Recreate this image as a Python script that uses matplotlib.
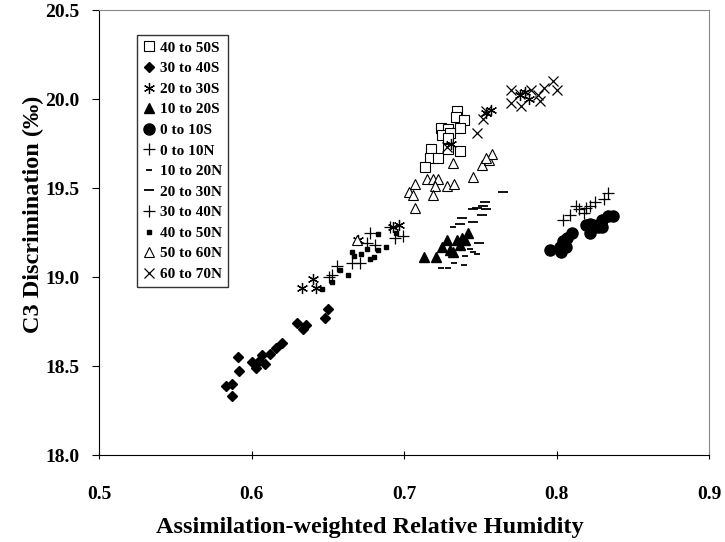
import numpy as np
import matplotlib
matplotlib.use("Agg")
import matplotlib.pyplot as plt

plt.rcParams['font.family'] = ['Liberation Serif', 'DejaVu Serif']
plt.rcParams['font.weight'] = 'bold'

# 40 to 50S (open squares)
s40_x = [0.735, 0.734, 0.739, 0.737, 0.724, 0.729, 0.725, 0.730, 0.729, 0.729, 0.737, 0.718, 0.717, 0.722, 0.714]
s40_y = [19.93, 19.90, 19.88, 19.84, 19.84, 19.83, 19.80, 19.81, 19.78, 19.72, 19.71, 19.72, 19.67, 19.67, 19.62]

# 30 to 40S (filled diamonds)
s30_x = [0.583, 0.587, 0.587, 0.591, 0.592, 0.600, 0.603, 0.605, 0.607, 0.609, 0.612, 0.616, 0.620, 0.630, 0.634, 0.636, 0.648, 0.650]
s30_y = [18.39, 18.40, 18.33, 18.55, 18.47, 18.52, 18.49, 18.53, 18.56, 18.51, 18.57, 18.60, 18.63, 18.74, 18.71, 18.73, 18.77, 18.82]

# 20 to 30S (asterisks)
s20_x = [0.633, 0.640, 0.642, 0.670, 0.693, 0.697, 0.731, 0.754, 0.757, 0.776, 0.779, 0.782]
s20_y = [18.94, 18.99, 18.94, 19.21, 19.28, 19.29, 19.75, 19.92, 19.94, 20.02, 20.04, 20.00]

# 10 to 20S (filled triangles)
s10_x = [0.713, 0.721, 0.725, 0.728, 0.730, 0.735, 0.737, 0.740, 0.742, 0.738, 0.732]
s10_y = [19.11, 19.11, 19.17, 19.21, 19.15, 19.21, 19.18, 19.21, 19.25, 19.22, 19.14]

# 0 to 10S (filled circles)
s0_x = [0.796, 0.802, 0.804, 0.807, 0.810, 0.806, 0.819, 0.822, 0.824, 0.827, 0.830, 0.830, 0.834, 0.837, 0.822, 0.803]
s0_y = [19.15, 19.17, 19.20, 19.22, 19.25, 19.17, 19.29, 19.25, 19.29, 19.28, 19.28, 19.32, 19.34, 19.34, 19.30, 19.14]

# 0 to 10N (plus)
n0_x = [0.804, 0.809, 0.813, 0.815, 0.819, 0.822, 0.825, 0.831, 0.834, 0.818]
n0_y = [19.32, 19.35, 19.40, 19.38, 19.39, 19.40, 19.42, 19.44, 19.47, 19.36]

# 10 to 20N (short dash)
n10_x = [0.724, 0.729, 0.733, 0.739, 0.740, 0.748, 0.743, 0.745, 0.732]
n10_y = [19.05, 19.05, 19.08, 19.07, 19.12, 19.13, 19.16, 19.14, 19.28]

# 20 to 30N (long dash)
n20_x = [0.737, 0.738, 0.745, 0.745, 0.748, 0.752, 0.753, 0.754, 0.751, 0.765, 0.749]
n20_y = [19.30, 19.33, 19.31, 19.38, 19.39, 19.40, 19.42, 19.38, 19.35, 19.48, 19.19]

# 30 to 40N (plus)
n30_x = [0.656, 0.666, 0.671, 0.678, 0.681, 0.676, 0.694, 0.699, 0.691, 0.653, 0.651]
n30_y = [19.06, 19.08, 19.08, 19.25, 19.18, 19.19, 19.22, 19.23, 19.28, 19.01, 19.00]

# 40 to 50N (small filled squares)
n40_x = [0.646, 0.658, 0.663, 0.666, 0.672, 0.676, 0.678, 0.680, 0.683, 0.688, 0.683, 0.695, 0.667, 0.653]
n40_y = [18.93, 19.04, 19.01, 19.14, 19.13, 19.16, 19.10, 19.11, 19.15, 19.17, 19.24, 19.25, 19.12, 18.97]

# 50 to 60N (open triangles)
n50_x = [0.732, 0.715, 0.719, 0.722, 0.707, 0.728, 0.733, 0.720, 0.703, 0.706, 0.719, 0.707, 0.745, 0.751, 0.756, 0.758, 0.754, 0.669]
n50_y = [19.64, 19.55, 19.55, 19.55, 19.52, 19.51, 19.52, 19.51, 19.48, 19.46, 19.46, 19.39, 19.56, 19.63, 19.66, 19.69, 19.67, 19.21]

# 60 to 70N (x)
n60_x = [0.770, 0.776, 0.770, 0.777, 0.754, 0.752, 0.748, 0.728, 0.783, 0.788, 0.792, 0.789, 0.798, 0.800]
n60_y = [20.05, 20.03, 19.98, 19.96, 19.93, 19.89, 19.81, 19.73, 20.05, 20.02, 20.06, 19.99, 20.10, 20.05]

fig = plt.figure(figsize=(7.25, 5.42), dpi=100)
ax = fig.add_axes([0.1366, 0.1605, 0.8414, 0.821])

k = 'black'
ax.plot(s40_x, s40_y, 's', ms=7, mfc='white', mec=k, mew=0.8, label='40 to 50S')
ax.plot(s30_x, s30_y, 'D', ms=5.5, color=k, label='30 to 40S')
ax.plot(s20_x, s20_y, ls='none', marker=(6, 2, 0), ms=8, color=k, mew=0.9, label='20 to 30S')
ax.plot(s10_x, s10_y, '^', ms=7.5, color=k, label='10 to 20S')
ax.plot(s0_x, s0_y, 'o', ms=8, color=k, label='0 to 10S')
ax.plot(n0_x, n0_y, '+', ms=8, color=k, mew=0.9, label='0 to 10N')
ax.plot(n10_x, n10_y, '_', ms=4, color=k, mew=1.3, label='10 to 20N')
ax.plot(n20_x, n20_y, '_', ms=7, color=k, mew=1.3, label='20 to 30N')
ax.plot(n30_x, n30_y, '+', ms=8, color=k, mew=0.9, label='30 to 40N')
ax.plot(n40_x, n40_y, 's', ms=3.5, color=k, label='40 to 50N')
ax.plot(n50_x, n50_y, '^', ms=7.5, mfc='white', mec=k, mew=0.8, label='50 to 60N')
ax.plot(n60_x, n60_y, 'x', ms=7, color=k, mew=0.9, label='60 to 70N')

ax.set_xlim(0.5, 0.9)
ax.set_ylim(18.0, 20.5)
ax.set_xticks([0.5, 0.6, 0.7, 0.8, 0.9])
ax.set_yticks([18.0, 18.5, 19.0, 19.5, 20.0, 20.5])
ax.set_xticklabels(['0.5', '0.6', '0.7', '0.8', '0.9'])
ax.set_yticklabels(['18.0', '18.5', '19.0', '19.5', '20.0', '20.5'])
ax.tick_params(axis='x', direction='inout', length=6, pad=19, labelsize=14)
ax.tick_params(axis='y', direction='out', length=5, pad=9, labelsize=14)

for side in ['top', 'right']:
    ax.spines[side].set_color('#888888')
ax.spines['left'].set_color(k)
ax.spines['bottom'].set_color(k)

ax.set_xlabel('Assimilation-weighted Relative Humidity', fontsize=17.5, fontweight='bold')
ax.set_ylabel('C3 Discrimination (‰)', fontsize=17.5, fontweight='bold')
ax.xaxis.set_label_coords(0.444, -0.14)
ax.yaxis.set_label_coords(-0.09, 0.54)

leg = ax.legend(loc='upper left', bbox_to_anchor=(0.062, 0.944), borderaxespad=0,
                prop={'weight': 'bold', 'size': 11}, frameon=True, fancybox=False,
                handlelength=0.8, handletextpad=0.3, labelspacing=0.45,
                borderpad=0.4, numpoints=1)
leg.get_frame().set_edgecolor(k)
leg.get_frame().set_linewidth(1.0)

fig.savefig('out.png', dpi=100)
